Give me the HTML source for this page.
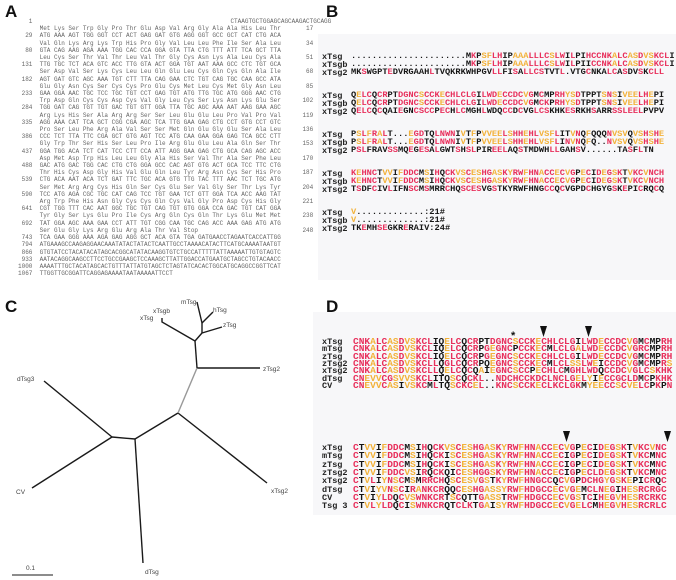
<!DOCTYPE html>
<html><head><meta charset="utf-8">
<style>
body{margin:0;width:676px;height:580px;background:#fff;position:relative;overflow:hidden;font-family:"Liberation Sans",sans-serif}
.L{position:absolute;font:bold 17px "Liberation Sans",sans-serif;color:#111}
#A{position:absolute;left:0;top:18px;font:6px/7.2px "Liberation Mono",monospace;color:#666;white-space:pre;margin:0}
.bg{position:absolute;background:#f7f7f9}
.r{position:absolute;white-space:pre;font-family:"Liberation Mono",monospace;font-weight:bold;color:#111}
.lb{position:absolute;white-space:pre;font:bold 8.5px "Liberation Mono",monospace;color:#222}
.rd{color:#e8305c}.og{color:#f3b23a}.bk{color:#151515}
</style></head><body>
<div class="L" style="left:5px;top:2px">A</div>
<div class="L" style="left:326px;top:2px">B</div>
<div class="L" style="left:5px;top:297px">C</div>
<div class="L" style="left:326px;top:297px">D</div>
<pre id="A">        1                                                       CTAAGTGCTGGAGCAGCAAGACTGCAGG
           Met Lys Ser Trp Gly Pro Thr Glu Asp Val Arg Gly Ala Ala His Leu Thr       17
       29  ATG AAA AGT TGG GGT CCT ACT GAG GAT GTG AGG GGT GCC GCT CAT CTG ACA
           Val Gln Lys Arg Lys Trp His Pro Gly Val Leu Leu Phe Ile Ser Ala Leu       34
       80  GTA CAG AAG AGA AAA TGG CAC CCA GGA GTA TTA CTG TTT ATT TCA GCT TTA
           Leu Cys Ser Thr Val Thr Leu Val Thr Gly Cys Asn Lys Ala Leu Cys Ala       51
      131  TTG TGC TCT ACA GTC ACC TTG GTA ACT GGA TGT AAT AAA GCC CTC TGT GCA
           Ser Asp Val Ser Lys Cys Leu Leu Gln Glu Leu Cys Gln Cys Gln Ala Ile       68
      182  AGT GAT GTC AGC AAA TGT CTT TTA CAG GAA CTC TGT CAG TGC CAA GCC ATA
           Glu Gly Asn Cys Ser Cys Cys Pro Glu Cys Met Leu Cys Met Gly Asn Leu       85
      233  GAA GGA AAC TGC TCC TGC TGT CCT GAG TGT ATG TTG TGC ATG GGG AAC CTG
           Trp Asp Gln Cys Cys Asp Cys Val Gly Leu Cys Ser Lys Asn Lys Glu Ser      102
      284  TGG GAT CAG TGT TGT GAC TGT GTT GGA TTA TGC AGC AAA AAT AAG GAA AGC
           Arg Lys His Ser Ala Arg Arg Ser Ser Leu Glu Glu Leu Pro Val Pro Val      119
      335  AGG AAA CAT TCA GCT CGG CGA AGC TCA TTG GAA GAG CTG CCT GTG CCT GTC
           Pro Ser Leu Phe Arg Ala Val Ser Ser Met Gln Glu Gly Glu Ser Ala Leu      136
      386  CCC TCT TTA TTC CGA GCT GTG AGT TCC ATG CAA GAA GGA GAG TCA GCC CTT
           Gly Trp Thr Ser His Ser Leu Pro Ile Arg Glu Glu Leu Ala Gln Ser Thr      153
      437  GGA TGG ACA TCT CAT TCC CTT CCA ATT AGG GAA GAG CTG GCA CAG AGC ACC
           Asp Met Asp Trp His Leu Leu Gly Ala His Ser Val Thr Ala Ser Phe Leu      170
      488  GAC ATG GAC TGG CAC CTG CTG GGA GCC CAC AGT GTG ACT GCA TCC TTC CTG
           Thr His Cys Asp Gly His Val Glu Gln Leu Tyr Arg Asn Cys Ser His Pro      187
      539  CTG ACA AAT ACA TCT GAT TTC TGC ACA GTG TTG TAC TTT AAC TCT TGC ATG
           Ser Met Arg Arg Cys His Gln Ser Cys Glu Ser Val Gly Ser Thr Lys Tyr      204
      590  TCC ATG AGA CGC TGC CAT CAG TCC TGT GAA TCT GTT GGA TCA ACC AAG TAT
           Arg Trp Phe His Asn Gly Cys Cys Gln Cys Val Gly Pro Asp Cys His Gly      221
      641  CGT TGG TTT CAC AAT GGC TGC TGT CAG TGT GTG GGA CCA GAC TGT CAT GGA
           Tyr Gly Ser Lys Glu Pro Ile Cys Arg Gln Cys Gln Thr Lys Glu Met Met      238
      692  TAT GGA AGC AAA GAA CCT ATT TGT CGG CAA TGC CAG ACC AAA GAG ATG ATG
           Ser Glu Gly Lys Arg Glu Arg Ala Thr Val Stop                             248
      743  TCA GAA GGG AAA AGA GAG AGG GCT ACA GTA TGA GATGAACCTAGAATCACCATTGG
      794  ATGAAAGCCAAGAGGAACAAATATACTATACTCAATTGCCTAAAACATACTTCATGCAAAATAATGT
      866  GTGTATCCTACATACATAGCACGGCATATACAAGGTGTCTGCCATTTTTATTAAAAATTGTGTAGTC
      933  AATACAGGCAAGCCTTCCTGCCGAAGCTCCAAAGCTTATTGGACCATGAATGCTAGCCTGTACAACC
     1000  AAAATTTGCTACATAGCACTGTTTATTATGTAGCTCTAGTATCACACTGGCATGCAGGCCGGTTCAT
     1067  TTGGTTGCGGATTCAGGAGAAAATAATAAAAATTCCT</pre>

<div class="bg" style="left:318px;top:34px;width:358px;height:246px"></div>
<div class="bg" style="left:313px;top:312px;width:363px;height:203px"></div>

<div id="B"></div>
<div id="D"></div>

<svg style="position:absolute;left:0;top:0" width="676" height="580">
<g stroke="#1a1a1a" stroke-width="1.4" fill="none">
<line x1="112" y1="437" x2="44" y2="381"/>
<line x1="112" y1="437" x2="32" y2="488"/>
<line x1="112" y1="437" x2="135" y2="439"/>
<line x1="135" y1="439" x2="143" y2="563"/>
<line x1="135" y1="439" x2="178" y2="413"/>
<line x1="178" y1="413" x2="267" y2="483"/>
<line x1="197" y1="368" x2="260" y2="368"/>
<line x1="197" y1="368" x2="195" y2="341"/>
<polyline points="195,341 162,322 162,318"/>
<line x1="195" y1="341" x2="202" y2="333"/>
<line x1="202" y1="333" x2="222" y2="327"/>
<line x1="202" y1="333" x2="202" y2="323"/>
<line x1="202" y1="323" x2="197" y2="302"/>
<line x1="202" y1="323" x2="213" y2="312"/>
<line x1="12" y1="575" x2="53" y2="575" stroke-width="1"/>
</g>
<line x1="178" y1="413" x2="197" y2="368" stroke="#999" stroke-width="1.4"/>
<g font-family="Liberation Sans,sans-serif" font-size="6.5" fill="#444">
<text x="17" y="381">dTsg3</text>
<text x="16" y="494">CV</text>
<text x="145" y="574">dTsg</text>
<text x="271" y="493">xTsg2</text>
<text x="263" y="371">zTsg2</text>
<text x="140" y="320">xTsg</text>
<text x="153" y="313">xTsgb</text>
<text x="181" y="304">mTsg</text>
<text x="213" y="312">hTsg</text>
<text x="223" y="327">zTsg</text>
<text x="26" y="570">0.1</text>
</g>
<g fill="#111">
<polygon points="540,326 547,326 543.5,337"/>
<polygon points="585,326 592,326 588.5,337"/>
<polygon points="563,431 570,431 566.5,442"/>
<polygon points="664,431 671,431 667.5,442"/>
</g>
<text x="511" y="339" font-family="Liberation Sans,sans-serif" font-weight="bold" font-size="11" fill="#111">*</text>
</svg>

<script>
function col(s,dark){
 let h='';
 for(const c of s){
  let k;
  if(c=='.'||c==' '||c==':'||/[0-9#]/.test(c))k='bk';
  else if(dark){k=('CLSE'.includes(c))?'rd':'bk';}
  else if('CGWKRHDLN'.includes(c))k='rd';
  else if('AESYVF'.includes(c))k='og';
  else k='bk';
  h+='<span class="'+k+'">'+c+'</span>';
 }
 return h;
}
function rows(id,data,lx,sx,fs,ls){
 const el=document.getElementById(id);let h='';
 for(const [lab,seq,y,dark] of data){
  h+='<div class="lb" style="left:'+lx+'px;top:'+(y-5)+'px">'+lab+'</div>';
  h+='<div class="r" style="left:'+sx+'px;top:'+(y-6)+'px;font-size:'+fs+'px;letter-spacing:'+ls+'px;line-height:11px">'+col(seq,dark)+'</div>';
 }
 el.innerHTML=h;
}
rows('B',[
['xTsg','......................MKPSFLHIPAAALLLCSLWILPIHCCNKALCASDVSKCLI',57,0],
['xTsgb','......................MKPSFLHIPAAALLLCSLWILPIICCNKALCASDVSKCLI',65,0],
['xTsg2','MKSWGPTEDVRGAAHLTVQKRKWHPGVLLFISALLCSTVTL.VTGCNKALCASDVSKCLL',73,1],
['xTsg','QELCQCRPTDGNCSCCKECHLCLGILWDECCDCVGMCMPRHYSDTPPTSNSIVEELHEPI',96,0],
['xTsgb','QELCQCRPTDGNCSCCKECHLCLGILWDECCDCVGMCKPRHYSDTPPTSNSIVEELHEPI',104,0],
['xTsg2','QELCQCQAIEGNCSCCPECHLCMGHLWDQCCDCVGLCSKHKESRKHSARRSSLEELPVPV',112,1],
['xTsg','PSLFRALT...EGDTQLNWNIVTFPVVEELSHHEHLVSFLITVNQFQQQNVSVQVSHSHE',135,0],
['xTsgb','PSLFRALT...EGDTQLNWNIVTFPVVEELSHHEHLVSFLINVNQFQ..NVSVQVSHSHE',143,0],
['xTsg2','PSLFRAVSSMQEGESALGWTSHSLPIREELAQSTMDWHLLGAHSV......TASFLTN',151,1],
['xTsg','KEHNCTVVIFDDCMSIHQCKVSCESHGASKYRWFHNACCECVGPECIDEGSKTVKCVNCH',174,0],
['xTsgb','KEHNCTVVIFDDCMSIHQCKVSCESHGASKYRWFHNACCECVGPECIDEGSKTVKCVNCH',182,0],
['xTsg2','TSDFCIVLIFNSCMSMRRCHQSCESVGSTKYRWFHNGCCQCVGPDCHGYGSKEPICRQCQ',190,1],
['xTsg','V.............:21#',213,0],
['xTsgb','V.............:21#',221,0],
['xTsg2','TKEMHSEGKRERAIV:24#',229,1]
],322,351,8.7,0);
const g1=['CNKALCASDVSKCLIQELCQCRPTDGNCSCCKECHLCLGILWDECCDCVGMCMPRH',
'CNKALCASDVSKCLIQELCQCRPGEGNCPCCKECMLCLGALWDECCDCVGRCMPRH',
'CNKALCASDVSKCLIQELCQCRPGEGNCSCCKECHLCLGILWDECCDCVGMCMPRH',
'CNKALCASDVSKCLLQGLCQCRPQEGNCSCCKECMLCLSSLWEICCDCVGMCMPRS',
'CNKALCASDVSKCLLQELCQCQAIEGNCSCCPECHLCMGHLWDQCCDCVGLCSKHK',
'CNEVVCGSVVSKCLITQSCQCKL..NDCHCCKDCLNCLGELYIECCGCLDMCPKHK',
'CNEVVCASIVSKCMLTQSCKCEL..KNCSCCKECLKCLGKMYEECCSCVELCPKPN'];
const l1=['xTsg','mTsg','zTsg','zTsg2','xTsg2','dTsg','CV'];
const g2=['CTVVIFDDCMSIHQCKVSCESHGASKYRWFHNACCECVGPECIDEGSKTVKCVNC',
'CTVVIFDDCMSIHQCKISCESHGASKYRWFHNACCECIGPECIDEGSKTVKCMNC',
'CTVVIFDDCMSIHQCKISCESHGASKYRWFHNACCECIGPECIDEGSKTVKCMNC',
'CTVVIFDDCVSIRQCKQICESHGGSKYRWFHNACCECIGPECLDEGSKTVKCMNC',
'CTVLIYNSCMSMRRCHQSCESVGSTKYRWFHNGCCQCVGPDCHGYGSKEPICRQC',
'CTVIYVNSCIRANKCRQQCESHGASSYRWFHDGCCECVGEMCLNEGIHESRCRGC',
'CTVIYLDQCVSWNKCRTSCQTTGASSTRWFHDGCCECVGSTCIHEGVHESRCRKC',
'CTVLYLDQCISWNKCRQTCLKTGAISYRWFHDGCCECVGELCMHEGVHESRCRLC'];
const l2=['xTsg','mTsg','zTsg','zTsg2','xTsg2','dTsg','CV','Tsg 3'];
const d=[];
l1.forEach((l,i)=>d.push([l,g1[i],342+i*7.3,0]));
l2.forEach((l,i)=>d.push([l,g2[i],448+i*8.3,0]));
rows('D',d,322,353,9.5,0);
</script>
</body></html>
